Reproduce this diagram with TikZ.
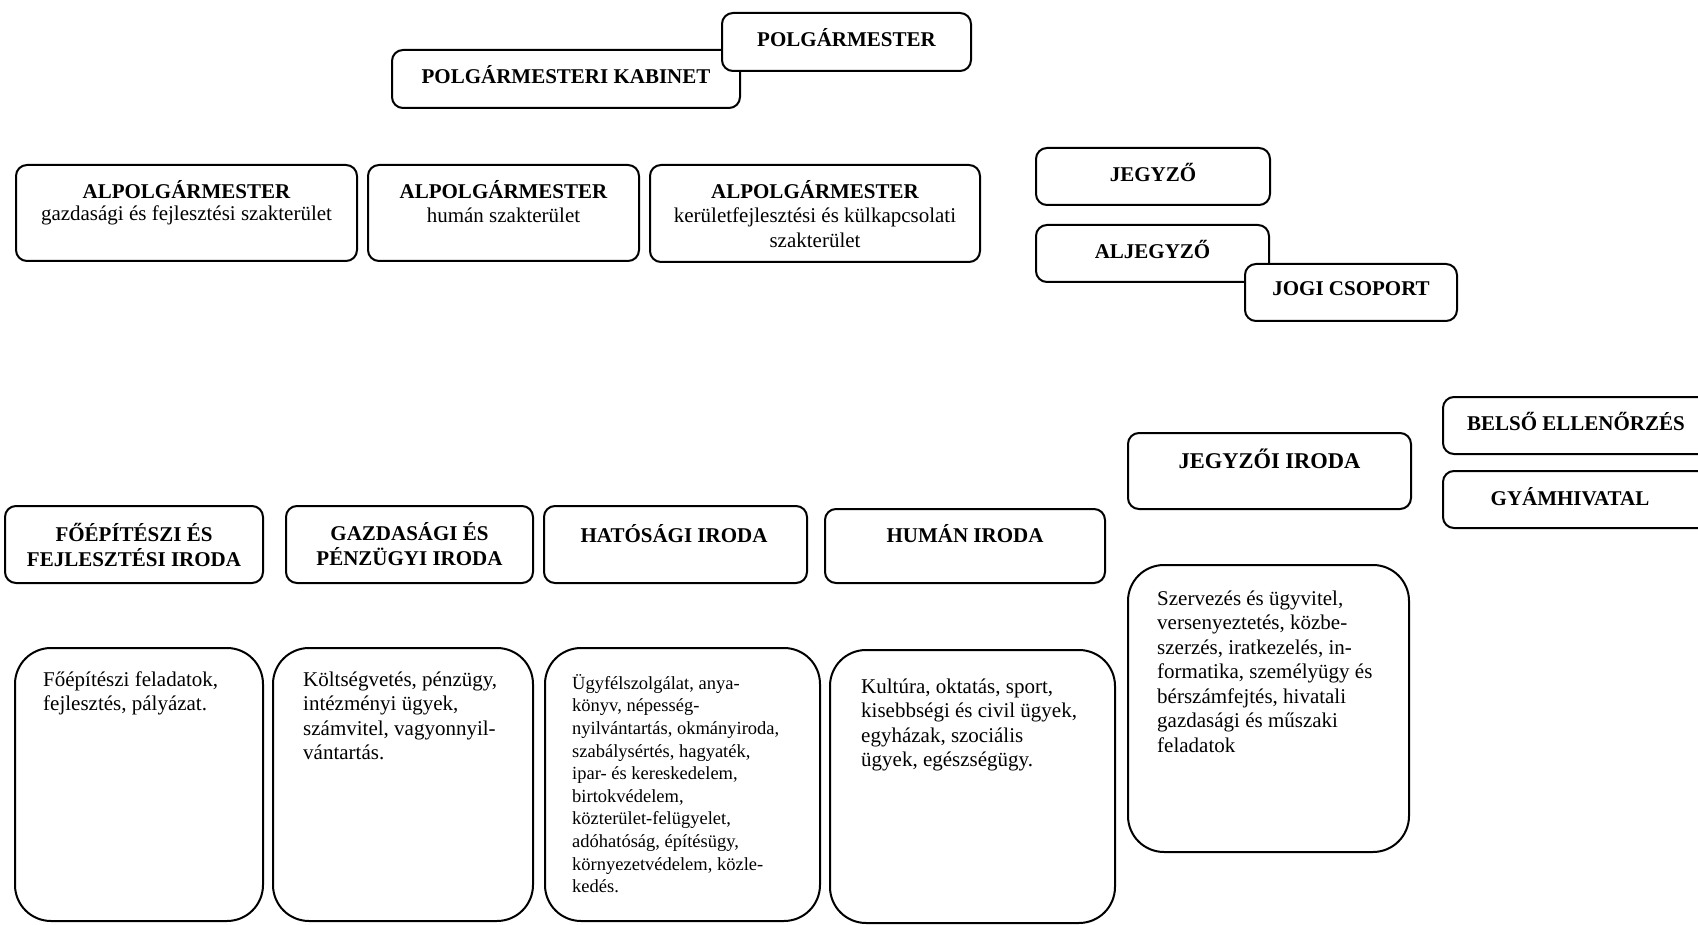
\documentclass[tikz,border=0pt]{standalone}
\usepackage{fontspec}
\setmainfont{Liberation Serif}
\newcommand\mystrut[1]{\rule{0pt}{#1}}
\tikzset{
  box/.style={draw=black, line width=2pt, rounded corners=11pt, fill=white, inner sep=0pt},
  descbox/.style={draw=black, line width=2pt, rounded corners=36pt, fill=white, inner sep=0pt},
  head/.style={font=\fontsize{21}{25}\selectfont\bfseries, align=center, inner sep=0pt},
  sub/.style={font=\fontsize{21}{25}\selectfont, align=center, inner sep=0pt},
  desc/.style={font=\fontsize{21}{24.5}\selectfont, align=left, anchor=north west, inner sep=0pt},
  descsmall/.style={font=\fontsize{18.5}{22.6}\selectfont, align=left, anchor=north west, inner sep=0pt},
}
\begin{document}
\begin{tikzpicture}[x=1pt,y=-1pt]
\useasboundingbox (0,0) rectangle (1698,925);
\fill[white] (0,0) rectangle (1698,925);
\clip (0,0) rectangle (1698,925);

% top
\node[box, minimum width=348pt, minimum height=58pt] (kab) at (566,79) {};
\node[head] (kabt) at (566,75) {POLGÁRMESTERI KABINET};
\node[box, minimum width=249pt, minimum height=58pt] (polg) at (846.5,42) {};
\node[head] (polgt) at (846.5,38) {POLGÁRMESTER};

% alpolgarmesterek
\node[box, minimum width=341pt, minimum height=96pt] (alp1) at (186.5,213) {};
\node[head] (alp1t) at (186.5,190) {ALPOLGÁRMESTER};
\node[sub] (alp1s) at (186.5,215) {gazdasági és fejlesztési szakterület};

\node[box, minimum width=271pt, minimum height=96pt] (alp2) at (503.5,213) {};
\node[head] (alp2t) at (503.5,190) {ALPOLGÁRMESTER};
\node[sub] (alp2s) at (503.5,215) {humán szakterület};

\node[box, minimum width=330pt, minimum height=97pt] (alp3) at (815,213.5) {};
\node[head] (alp3t) at (815,190) {ALPOLGÁRMESTER};
\node[sub] (alp3s) at (815,227.5) {kerületfejlesztési és külkapcsolati\\szakterület};

% jegyzo
\node[box, minimum width=234pt, minimum height=57pt] (jegyzo) at (1153,176.5) {};
\node[head] (jegyzot) at (1153,172) {JEGYZŐ};
\node[box, minimum width=233pt, minimum height=57pt] (aljegyzo) at (1152.5,253.5) {};
\node[head] (aljegyzot) at (1152.5,249) {ALJEGYZŐ};
\node[box, minimum width=212pt, minimum height=57pt] (jogi) at (1351,292.5) {};
\node[head] (jogit) at (1351,289) {JOGI CSOPORT};

% right side
\node[box, minimum width=267pt, minimum height=57pt] (belso) at (1576.5,425.5) {};
\node[head] (belsot) at (1576,421) {BELSŐ ELLENŐRZÉS};
\node[box, minimum width=267pt, minimum height=57pt] (gyam) at (1576.5,499.5) {};
\node[head] (gyamt) at (1570,497) {GYÁMHIVATAL};

\node[box, minimum width=283pt, minimum height=76pt] (jiroda) at (1269.5,471) {};
\node[head, font=\fontsize{22.5}{26}\selectfont\bfseries] (jirodat) at (1269.5,459) {JEGYZŐI IRODA};

% irodak
\node[box, minimum width=258pt, minimum height=77pt] (foep) at (134,544.5) {};
\node[head] (foept) at (134,544.5) {FŐÉPÍTÉSZI ÉS\\FEJLESZTÉSI IRODA};
\node[box, minimum width=247pt, minimum height=77pt] (gazd) at (409.5,544.5) {};
\node[head] (gazdt) at (409.5,544.5) {GAZDASÁGI ÉS\\PÉNZÜGYI IRODA};
\node[box, minimum width=263pt, minimum height=77pt] (hat) at (675.5,544.5) {};
\node[head] (hatt) at (674,534) {HATÓSÁGI IRODA};
\node[box, minimum width=280pt, minimum height=74pt] (hum) at (965,546) {};
\node[head] (humt) at (965,534) {HUMÁN IRODA};

% descriptions
\node[descbox, minimum width=248pt, minimum height=273pt] (foepd) at (139,784.5) {};
\node[desc] (foepdt) at (43,668) {\mystrut{18pt}Főépítészi feladatok,\\fejlesztés, pályázat.};

\node[descbox, minimum width=260pt, minimum height=273pt] (gazdd) at (403,784.5) {};
\node[desc] (gazddt) at (303,668) {\mystrut{18pt}Költségvetés, pénzügy,\\intézményi ügyek,\\számvitel, vagyonnyil-\\vántartás.};

\node[descbox, minimum width=275pt, minimum height=273pt] (hatd) at (682.5,784.5) {};
\node[descsmall] (hatdt) at (572,673) {\mystrut{16pt}Ügyfélszolgálat, anya-\\könyv, népesség-\\nyilvántartás, okmányiroda,\\szabálysértés, hagyaték,\\ipar- és kereskedelem,\\birtokvédelem,\\közterület-felügyelet,\\adóhatóság, építésügy,\\környezetvédelem, közle-\\kedés.};

\node[descbox, minimum width=285pt, minimum height=273pt] (humd) at (972.5,786.5) {};
\node[desc] (humdt) at (861,675) {\mystrut{18pt}Kultúra, oktatás, sport,\\kisebbségi és civil ügyek,\\egyházak, szociális\\ügyek, egészségügy.};

\node[descbox, minimum width=281pt, minimum height=287pt] (jd) at (1268.5,708.5) {};
\node[desc] (jdt) at (1157,587) {\mystrut{18pt}Szervezés és ügyvitel,\\versenyeztetés, közbe-\\szerzés, iratkezelés, in-\\formatika, személyügy és\\bérszámfejtés, hivatali\\gazdasági és műszaki\\feladatok};
\end{tikzpicture}
\end{document}
